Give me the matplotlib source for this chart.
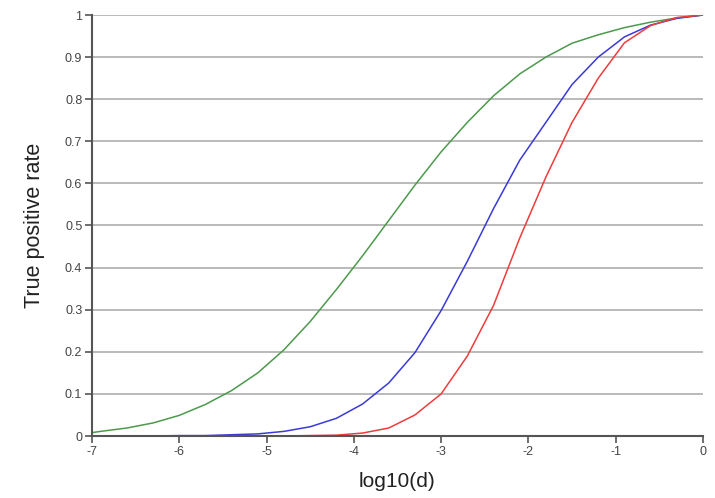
import matplotlib
matplotlib.use("Agg")
import matplotlib.pyplot as plt

plt.rcParams['font.family'] = ['Liberation Sans', 'DejaVu Sans']

log_d = [-7.0, -6.9, -6.6, -6.3, -6.0, -5.7, -5.4, -5.1, -4.8, -4.5, -4.2, -3.9,
         -3.6, -3.3, -3.0, -2.7, -2.4, -2.1, -1.8, -1.5, -1.2, -0.9, -0.6, -0.3, 0.0]

tpr_green = [0.008, 0.011, 0.019, 0.031, 0.049, 0.075, 0.108, 0.150, 0.205, 0.272,
             0.348, 0.428, 0.512, 0.596, 0.675, 0.745, 0.808, 0.860, 0.900, 0.933,
             0.953, 0.970, 0.983, 0.993, 1.000]

tpr_blue = [0.000, 0.000, 0.000, 0.000, 0.001, 0.001, 0.003, 0.005, 0.011, 0.022,
            0.042, 0.076, 0.126, 0.198, 0.298, 0.415, 0.540, 0.655, 0.745, 0.835,
            0.900, 0.948, 0.976, 0.992, 1.000]

tpr_red = [0.000, 0.000, 0.000, 0.000, 0.000, 0.000, 0.000, 0.000, 0.000, 0.001,
           0.002, 0.007, 0.019, 0.050, 0.100, 0.190, 0.310, 0.470, 0.615, 0.745,
           0.850, 0.934, 0.975, 0.994, 1.000]

x_ticks = [-7, -6, -5, -4, -3, -2, -1, 0]
y_ticks = [0, 0.1, 0.2, 0.3, 0.4, 0.5, 0.6, 0.7, 0.8, 0.9, 1]
y_tick_labels = ["0", "0.1", "0.2", "0.3", "0.4", "0.5", "0.6", "0.7", "0.8", "0.9", "1"]

fig = plt.figure(figsize=(7.15, 4.98), dpi=100)
ax = fig.add_axes([92/715, 1-436/498, (703-92)/715, (436-15)/498])

for yv in y_ticks[1:]:
    ax.axhline(yv, color="#b4b4b4", lw=1.3, zorder=1)

ax.plot(log_d, tpr_green, color="#4c9a4c", lw=1.1, zorder=3)
ax.plot(log_d, tpr_blue, color="#3a3ad8", lw=1.1, zorder=3)
ax.plot(log_d, tpr_red, color="#ee3c3c", lw=1.1, zorder=3)

ax.set_xlim(-7, 0)
ax.set_ylim(0, 1)
ax.set_xticks(x_ticks)
ax.set_xticklabels([str(v) for v in x_ticks])
ax.set_yticks(y_ticks)
ax.set_yticklabels(y_tick_labels)

for s in ["top", "right"]:
    ax.spines[s].set_visible(False)
for s in ["left", "bottom"]:
    ax.spines[s].set_color("#555555")
    ax.spines[s].set_linewidth(1.5)
    ax.spines[s].set_zorder(4)

ax.tick_params(axis="both", direction="out", length=5, width=1.2, color="#555555",
               labelsize=9, labelcolor="#444444", pad=2)

ax.set_xlabel("log10(d)", fontsize=15, color="#222222", labelpad=10)
ax.set_ylabel("True positive rate", fontsize=15.5, color="#222222", labelpad=14)

fig.savefig("out.png", dpi=100, facecolor="white")
